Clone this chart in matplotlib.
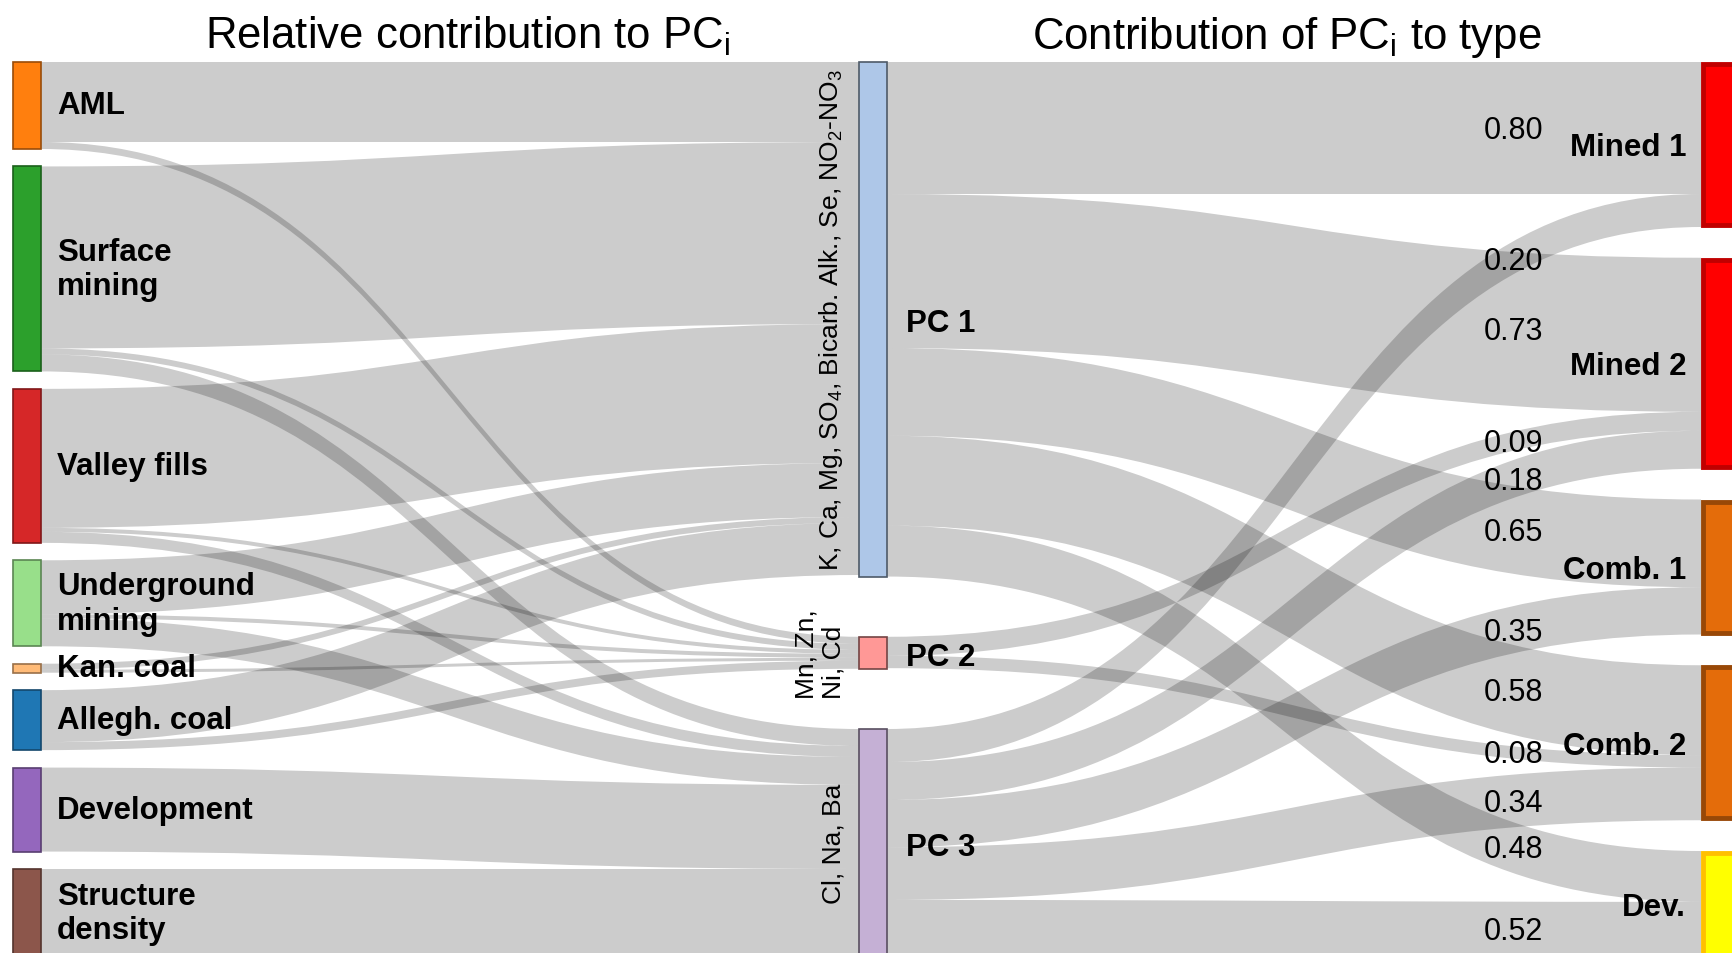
import matplotlib

matplotlib.use("Agg")
import matplotlib.pyplot as plt
import numpy as np
from matplotlib.colors import to_rgb
from matplotlib.patches import PathPatch, Rectangle
from matplotlib.path import Path

plt.rcParams["font.family"] = ["Liberation Sans", "DejaVu Sans"]
plt.rcParams["mathtext.fontset"] = "custom"
plt.rcParams["mathtext.rm"] = "Liberation Sans"
plt.rcParams["mathtext.it"] = "Liberation Sans:italic"
plt.rcParams["mathtext.bf"] = "Liberation Sans:bold"

# left column: land-use / geology variables
sources = [
    "AML", "Surface\nmining", "Valley fills", "Underground\nmining",
    "Kan. coal", "Allegh. coal", "Development", "Structure\ndensity",
]
source_colors = ["#ff7f0e", "#2ca02c", "#d62728", "#98df8a",
                 "#ffbb78", "#1f77b4", "#9467bd", "#8c564b"]

# middle column: principal components and their dominant loadings
pcs = ["PC 1", "PC 2", "PC 3"]
pc_colors = ["#aec7e8", "#ff9896", "#c5b0d5"]
pc_loadings = [
    "K, Ca, Mg, SO$_4$, Bicarb. Alk., Se, NO$_2$-NO$_3$",
    "Mn, Zn,\nNi, Cd",
    "Cl, Na, Ba",
]

# relative contribution of each variable to PC1 / PC2 / PC3
to_pc1 = [80, 182, 139, 54, 6, 52, 0, 0]
to_pc2 = [7, 6, 4, 4, 3, 8, 0, 0]
to_pc3 = [0, 17, 11, 28, 0, 0, 84, 88]

# right column: catchment types
types = ["Mined 1", "Mined 2", "Comb. 1", "Comb. 2", "Dev."]
type_weight = [165, 211, 135, 155, 106]
type_fill = ["#ff0000", "#ff0000", "#e46c0a", "#e46c0a", "#ffff00"]
type_edge = ["#c00000", "#c00000", "#984807", "#984807", "#ffc000"]

# contribution of PC1 / PC2 / PC3 to each type
pc1_share = [0.80, 0.73, 0.65, 0.58, 0.48]
pc2_share = [0.00, 0.09, 0.00, 0.08, 0.00]
pc3_share = [0.20, 0.18, 0.35, 0.34, 0.52]

W, H = 1732, 954
TOP, BOTTOM = 63, 958
NODE_W = 28
X_LEFT, X_MID, X_RIGHT = 13, 859, 1701
LINK_COLOR = (0, 0, 0, 0.2)
VALUE_X = 1512


def stack(sizes):
    gap = (BOTTOM - TOP - sum(sizes)) / (len(sizes) - 1)
    spans, y = [], TOP
    for s in sizes:
        spans.append([y, y + s])
        y += s + gap
    return spans


def darker(color, f=0.6):
    return tuple(c * f for c in to_rgb(color))


def band(ax, x0, x1, s0, s1, t0, t1):
    xm = (x0 + x1) / 2
    verts = [(x0, s0), (xm, s0), (xm, t0), (x1, t0), (x1, t1),
             (xm, t1), (xm, s1), (x0, s1), (x0, s0)]
    codes = [Path.MOVETO, Path.CURVE4, Path.CURVE4, Path.CURVE4, Path.LINETO,
             Path.CURVE4, Path.CURVE4, Path.CURVE4, Path.CLOSEPOLY]
    ax.add_patch(PathPatch(Path(verts, codes), facecolor=LINK_COLOR,
                           edgecolor="none", zorder=1))


def center_at(x, x0, x1, y0, y1):
    u = np.linspace(0, 1, 400)
    xs = x0 + (x1 - x0) * (1.5 * u - 1.5 * u ** 2 + u ** 3)
    ys = y0 + (y1 - y0) * (3 * u ** 2 - 2 * u ** 3)
    return float(np.interp(x, xs, ys))


left_flows = np.array([to_pc1, to_pc2, to_pc3], dtype=float).T
shares = np.array([pc1_share, pc2_share, pc3_share])
right_flows = shares * np.array(type_weight, dtype=float)

source_size = left_flows.sum(axis=1)
pc_size = np.maximum(left_flows.sum(axis=0), right_flows.sum(axis=1))

src_spans = stack(source_size)
pc_spans = stack(pc_size)
type_spans = stack(type_weight)

fig = plt.figure(figsize=(W / 100, H / 100), dpi=100)
ax = fig.add_axes([0, 0, 1, 1])
ax.set_xlim(0, W)
ax.set_ylim(H, 0)
ax.axis("off")

# links: variables -> PCs
src_off = [s[0] for s in src_spans]
for i in range(len(sources)):
    for j in range(len(pcs)):
        v = left_flows[i, j]
        if v <= 0:
            continue
        s0 = src_off[i]
        src_off[i] += v
        # inflows at a PC are stacked in source order
        t0 = pc_spans[j][0] + left_flows[:i, j].sum()
        band(ax, X_LEFT + NODE_W, X_MID, s0, s0 + v, t0, t0 + v)

# links: PCs -> types, labelled with the share
for j in range(len(pcs)):
    for k in range(len(types)):
        v = right_flows[j, k]
        if v <= 0:
            continue
        s0 = pc_spans[j][0] + right_flows[j, :k].sum()
        t0 = type_spans[k][0] + right_flows[:j, k].sum()
        band(ax, X_MID + NODE_W, X_RIGHT, s0, s0 + v, t0, t0 + v)
        yc = center_at(VALUE_X, X_MID + NODE_W, X_RIGHT, s0 + v / 2, t0 + v / 2)
        ax.text(1543, yc + 2, f"{shares[j, k]:.2f}", ha="right", va="center",
                fontsize=22, color="black", zorder=4)

# nodes
for (y0, y1), name, col in zip(src_spans, sources, source_colors):
    ax.add_patch(Rectangle((X_LEFT, y0), NODE_W, y1 - y0, facecolor=col,
                           edgecolor=darker(col), linewidth=1.2, zorder=2))
    ax.text(X_LEFT + 44, (y0 + y1) / 2, name, ha="left", va="center",
            fontsize=22.5, fontweight="bold", linespacing=1.2, zorder=4)

for (y0, y1), name, col, load in zip(pc_spans, pcs, pc_colors, pc_loadings):
    ax.add_patch(Rectangle((X_MID, y0), NODE_W, y1 - y0, facecolor=col,
                           edgecolor=darker(col, 0.45), linewidth=1.2, zorder=2))
    ax.text(X_MID + 47, (y0 + y1) / 2 + 4, name, ha="left", va="center",
            fontsize=22.5, fontweight="bold", zorder=4)
    ax.text(X_MID - 14, min((y0 + y1) / 2, 860), load, rotation=90, ha="right",
            va="center", multialignment="left", fontsize=19, linespacing=1.12,
            zorder=4)

for (y0, y1), name, fc, ec in zip(type_spans, types, type_fill, type_edge):
    ax.add_patch(Rectangle((X_RIGHT + 2, y0 + 2), NODE_W + 10, y1 - y0 - 4,
                           facecolor=fc, edgecolor=ec, linewidth=3.5, zorder=2))
    ax.text(1686, (y0 + y1) / 2 + 3, name, ha="right", va="center",
            fontsize=22.5, fontweight="bold", zorder=4)

ax.text(468, 49, "Relative contribution to PC$_\\mathrm{i}$", ha="center",
        va="baseline", fontsize=31.5)
ax.text(1287, 49, "Contribution of PC$_\\mathrm{i}$ to type", ha="center",
        va="baseline", fontsize=31.5)

fig.savefig("out.png", dpi=100, facecolor="white")
